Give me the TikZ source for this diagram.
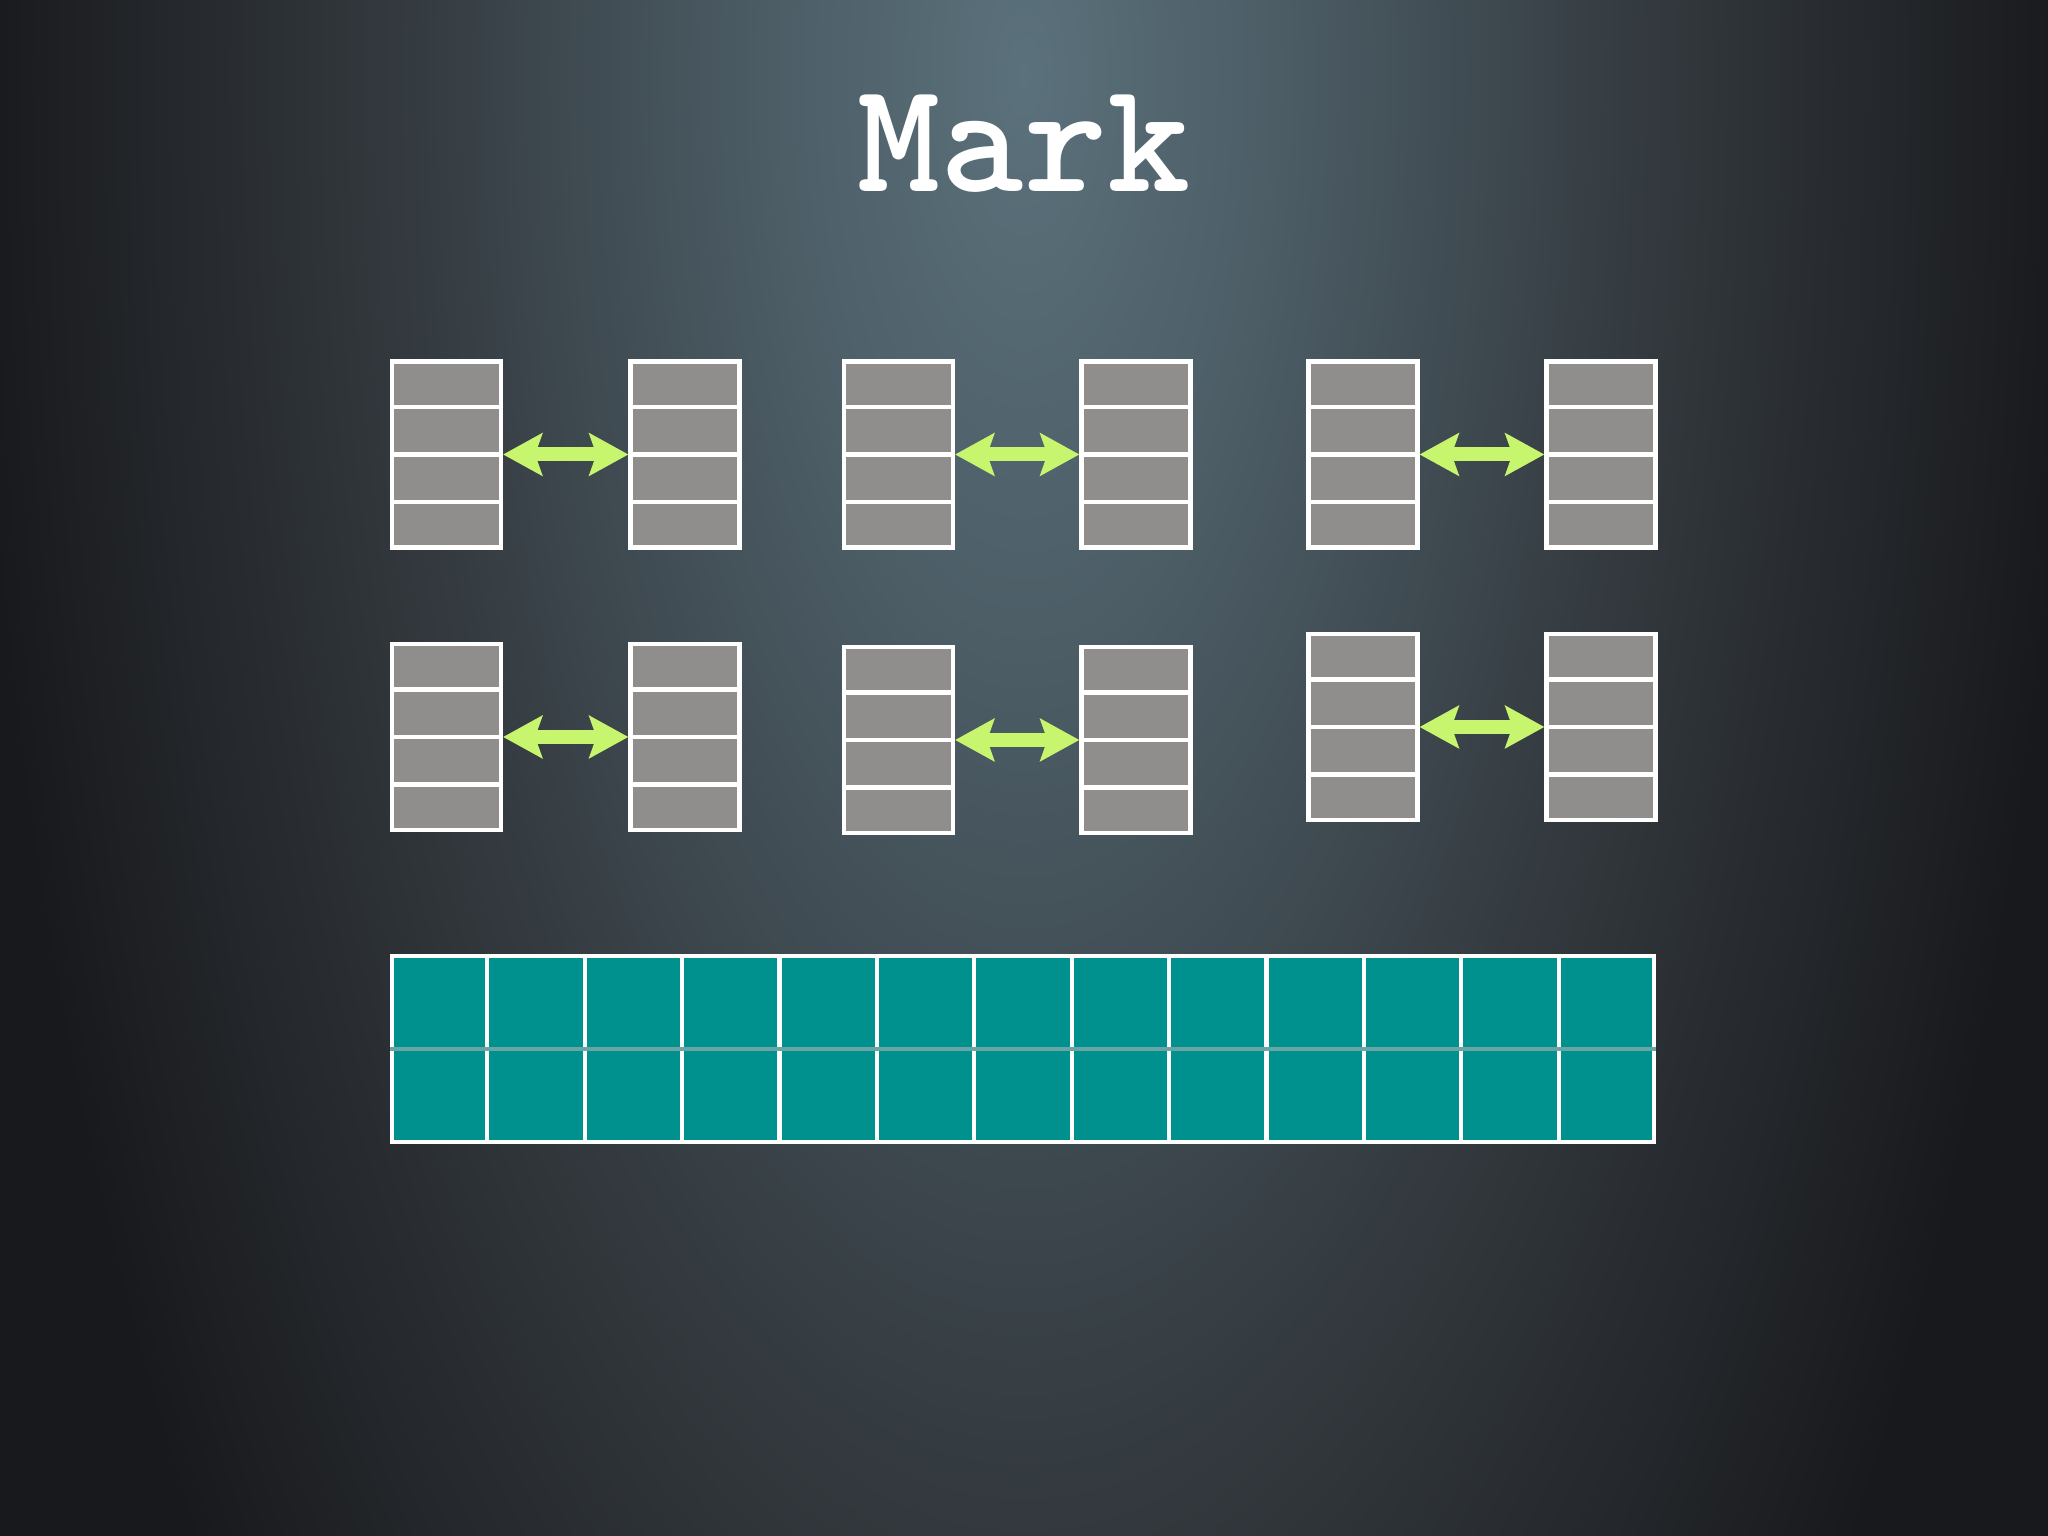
\documentclass[tikz,border=0pt]{standalone}
\usepackage{fontspec}
\usepackage{tikz}
\usetikzlibrary{arrows.meta,calc}
\definecolor{bgdark}{HTML}{18191C}
\definecolor{glowtop}{HTML}{5B717B}
\definecolor{glowmid}{HTML}{4C5D66}
\definecolor{glowlow}{HTML}{33393E}
\definecolor{cellgrey}{HTML}{908E8D}
\definecolor{heapteal}{HTML}{00908D}
\definecolor{heapmid}{HTML}{6AA5A5}
\definecolor{linkgreen}{HTML}{C8F56E}
\pgfdeclareradialshading{slideglow}{\pgfpoint{0bp}{0bp}}{color(0bp)=(glowtop); color(6bp)=(glowmid); color(15bp)=(glowlow); color(25bp)=(bgdark); color(50bp)=(bgdark)}

\begin{document}
\begin{tikzpicture}[line cap=rect,line join=miter,x=1cm,y=1cm,
  stack/.style={draw=white,fill=cellgrey,line width=1.2pt,minimum width=1.09cm,minimum height=1.86cm,inner sep=0pt},
  cellline/.style={draw=white,line width=1.2pt,line cap=butt},
  link/.style={{Stealth[length=0.39cm,width=0.42cm,inset=0.07cm]}-{Stealth[length=0.39cm,width=0.42cm,inset=0.07cm]},draw=linkgreen,line width=0.14cm,line cap=butt},
  heap/.style={draw=white,fill=heapteal,line width=1.2pt,minimum width=12.62cm,minimum height=1.86cm,inner sep=0pt},
  title/.style={text=white,font=\ttfamily\bfseries\fontsize{45}{52}\selectfont,inner sep=0pt,anchor=base}]
\useasboundingbox (0,0) rectangle (20.48,15.36);
\fill [bgdark] (0,0) rectangle (20.48,15.36);
\begin{scope}
\clip (0,0) rectangle (20.48,15.36);
\shade [shading=slideglow] (10.24,14.6) ellipse (10.5 and 24);
\end{scope}
\node [title] (title) at (10.24,13.44) {Mark};
\node [stack] (a1) at (4.465,10.815) {};
\node [stack] (b1) at (6.850,10.815) {};
\node [stack] (c1) at (8.985,10.815) {};
\node [stack] (d1) at (11.360,10.815) {};
\node [stack] (e1) at (13.630,10.815) {};
\node [stack] (f1) at (16.010,10.815) {};
\node [stack] (a2) at (4.465,7.990) {};
\node [stack] (b2) at (6.850,7.990) {};
\node [stack] (c2) at (8.985,7.960) {};
\node [stack] (d2) at (11.360,7.960) {};
\node [stack] (e2) at (13.630,8.090) {};
\node [stack] (f2) at (16.010,8.090) {};
\foreach \s in {a1,b1,c1,d1,e1,f1,a2,b2,c2,d2,e2,f2}
  \foreach \k in {1,2,3}
    \draw [cellline] ($(\s.north west)!\k/4!(\s.south west)$) -- ($(\s.north east)!\k/4!(\s.south east)$);
\foreach \l/\r in {a1/b1,c1/d1,e1/f1,a2/b2,c2/d2,e2/f2}
  \draw [link] (\l.east) -- (\r.west);
\node [heap] (heap) at (10.23,4.87) {};
\foreach \i in {1,...,12}
  \draw [cellline] ($(heap.north west)!\i/13!(heap.north east)$) -- ($(heap.south west)!\i/13!(heap.south east)$);
\draw [draw=heapmid,line width=0.9pt,line cap=butt] (heap.west) -- (heap.east);
\end{tikzpicture}
\end{document}
